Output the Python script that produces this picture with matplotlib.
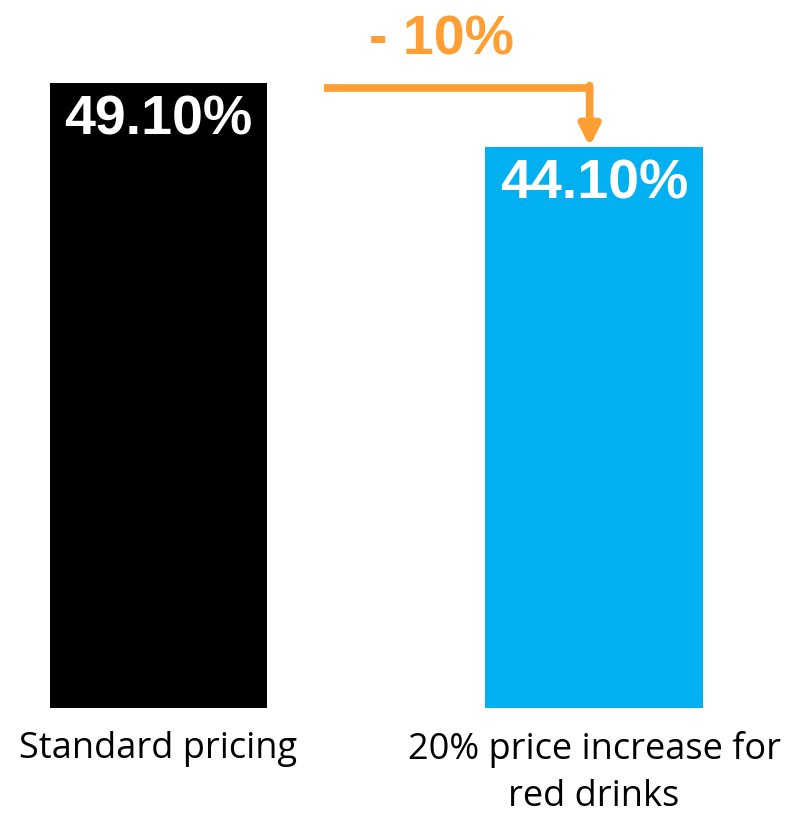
import numpy as np
import matplotlib.pyplot as plt

categories = ["Standard pricing", "20% price increase for\nred drinks"]
values = [49.10, 44.10]
value_labels = ["49.10%", "44.10%"]
change_label = "- 10%"

bar_colors = ["#000000", "#00B0F0"]
orange = "#FF9F33"

fig = plt.figure(figsize=(8.05, 8.15), dpi=100)
ax = fig.add_axes([0, 0, 1, 1])

x = np.arange(len(categories))
ax.bar(x, values, width=0.5, color=bar_colors)

for xi, v, lab in zip(x, values, value_labels):
    ax.text(xi, v - 2.95, lab, ha="center", va="center", color="white",
            fontsize=40, fontweight="bold", family="Liberation Sans")

for xi, cat in zip(x, categories):
    ax.text(xi, -1.8, cat, ha="center", va="top", color="black",
            fontsize=26, family="Open Sans", linespacing=1.42)

# bracket arrow showing the drop
y_line = 48.7
x_start = 0.38
x_end = 0.99
ax.plot([x_start, x_end], [y_line, y_line], color=orange, lw=5.5,
        solid_capstyle="butt")
ax.annotate("", xy=(x_end, values[1]), xytext=(x_end, y_line + 0.2),
            arrowprops=dict(arrowstyle="-|>", color=orange, lw=5.5,
                            mutation_scale=30, shrinkA=0, shrinkB=0))
ax.text(0.649, 52.4, change_label, ha="center", va="center", color=orange,
        fontsize=40, fontweight="bold", family="Liberation Sans")

ax.set_xlim(-0.364, 1.4845)
ax.set_ylim(-8.41, 55.62)
ax.axis("off")

fig.savefig("out.png", dpi=100)
